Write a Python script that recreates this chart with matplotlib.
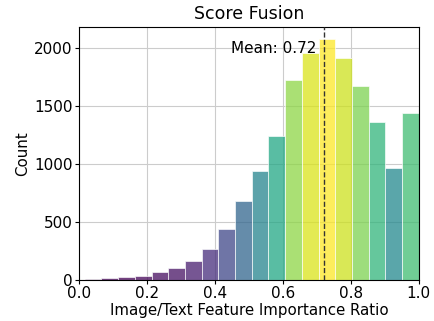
import numpy as np
import matplotlib.pyplot as plt
from matplotlib import cm

# histogram counts (20 bins)
counts = [8, 15, 23, 37, 69, 101, 164, 270, 442, 681,
          940, 1239, 1724, 1960, 2078, 1916, 1672, 1359, 968, 1442]
bin_lo = 0.017
bin_hi = 1.0
mean_val = 0.72

edges = np.linspace(bin_lo, bin_hi, len(counts) + 1)
widths = np.diff(edges)
counts = np.array(counts)

fig = plt.figure(figsize=(4.34, 3.21), dpi=100)
ax = fig.add_axes([0.182, 0.128, 0.783, 0.788])

colors = cm.viridis(counts / counts.max())
ax.bar(edges[:-1], counts, width=widths, align='edge', color=colors,
       alpha=0.75, edgecolor='white', linewidth=0.6, zorder=2)

ax.axvline(mean_val, color='#333333', linestyle='--', linewidth=1, zorder=3)
ax.text(mean_val - 0.02, 2000, f"Mean: {mean_val:.2f}",
        ha='right', va='center', fontsize=11)

ax.set_xlim(0, 1)
ax.grid(True, color='#cccccc', linewidth=0.8, zorder=0)
ax.set_axisbelow(True)
ax.tick_params(labelsize=11, length=3, pad=1.5)
ax.set_title("Score Fusion", fontsize=12.5, pad=6)
ax.set_xlabel("Image/Text Feature Importance Ratio", fontsize=10.8, labelpad=1)
ax.set_ylabel("Count", fontsize=10.8, labelpad=3)

fig.savefig("out.png", dpi=100)
